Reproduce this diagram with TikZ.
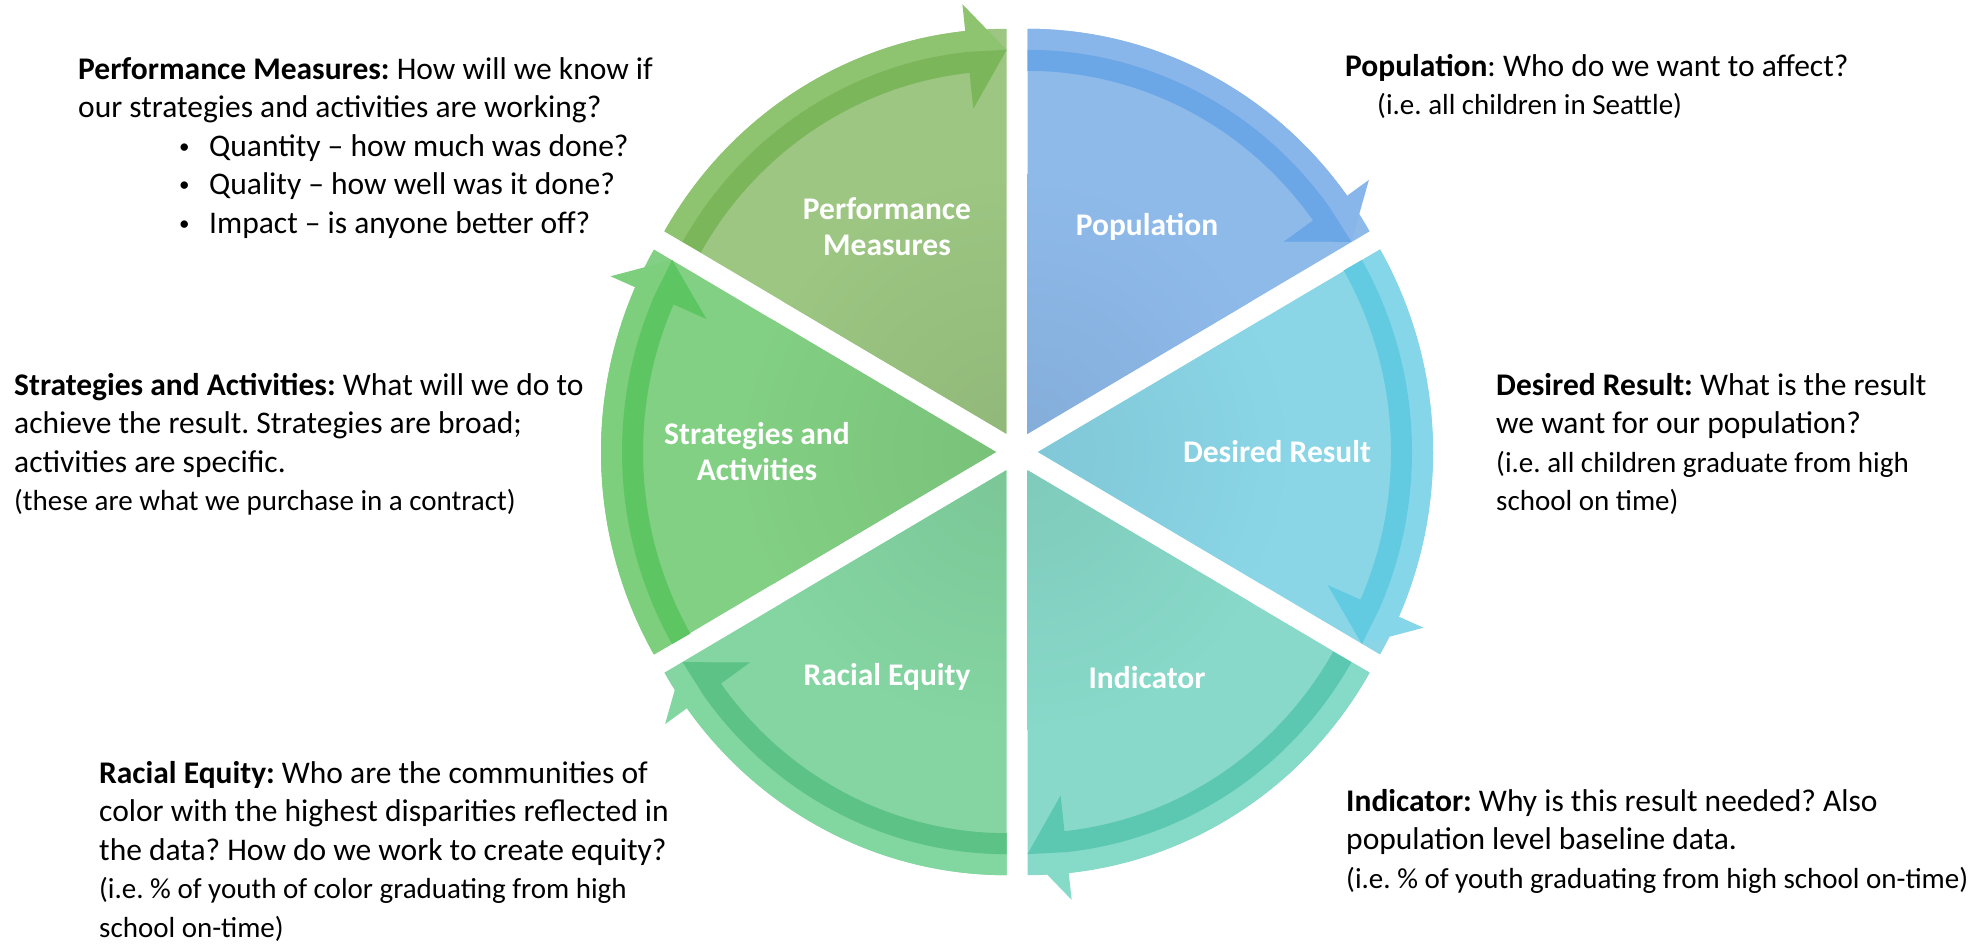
\documentclass[tikz,border=0pt]{standalone}
\usepackage{fontspec}
\setmainfont{Carlito}
\usetikzlibrary{calc}
\usetikzlibrary{positioning}

\definecolor{popfill}{HTML}{8EBAEA}
\definecolor{popout}{HTML}{88B6EA}
\definecolor{popin}{HTML}{6BA7E6}
\definecolor{resfill}{HTML}{8AD6E7}
\definecolor{resout}{HTML}{86D6E9}
\definecolor{resin}{HTML}{62CBE2}
\definecolor{indfill}{HTML}{88D9C9}
\definecolor{indout}{HTML}{86DAC8}
\definecolor{indin}{HTML}{5CC8B2}
\definecolor{eqfill}{HTML}{84D5A2}
\definecolor{eqout}{HTML}{82D6A0}
\definecolor{eqin}{HTML}{5DC285}
\definecolor{strfill}{HTML}{82D083}
\definecolor{strout}{HTML}{7DCF7E}
\definecolor{strin}{HTML}{5EC563}
\definecolor{pmfill}{HTML}{9CC682}
\definecolor{pmout}{HTML}{8EC36F}
\definecolor{pmin}{HTML}{7BB65A}

\tikzstyle{seglabel} = [
    text=white,
    font=\bfseries\fontsize{31.5}{36}\selectfont,
    align=center
]
\tikzstyle{note} = [
    anchor=north west,
    inner sep=0pt,
    align=left,
    font=\frenchspacing\fontsize{31.5}{38.5}\selectfont
]
\newcommand{\iesize}{\fontsize{29}{38.5}\selectfont}
\newcommand{\pmitem}{\hspace*{101pt}\makebox[30pt][l]{\raisebox{3pt}{\fontsize{21}{21}\selectfont •}}}

\begin{document}
\begin{tikzpicture}[x=1pt, y=1pt]

\fill[white] (0,0) rectangle (1984,945);
\useasboundingbox (0,0) rectangle (1984,945);
\coordinate (c) at (1017,493);

% six segments, each with its arrow along the rim (clockwise)
\foreach \bis/\segfill/\rimout/\rimin in {60/popfill/popout/popin, 0/resfill/resout/resin, -60/indfill/indout/indin, -120/eqfill/eqout/eqin, 180/strfill/strout/strin, 120/pmfill/pmout/pmin} {
  \begin{scope}[shift={(c)}, shift={(\bis:21pt)}]
    \fill[\segfill] (0,0) -- (\bis+30:395pt and 405pt) arc[start angle=\bis+30, end angle=\bis-30, x radius=395pt, y radius=405pt] -- cycle;
    \begin{scope}
      \clip (0,0) -- (\bis+30:395pt and 405pt) arc[start angle=\bis+30, end angle=\bis-30, x radius=395pt, y radius=405pt] -- cycle;
      \shade[inner color=\segfill!93!black, outer color=\segfill] (0,0) circle (260pt);
    \end{scope}
    \fill[\rimout] (\bis+30:395pt and 405pt) arc[start angle=\bis+30, end angle=\bis-24, x radius=395pt, y radius=405pt]
        -- (\bis-24:422pt and 432pt) -- (\bis-30:374pt and 384pt) -- (\bis-24:317pt and 327pt)
        -- (\bis-24:353pt and 363pt) arc[start angle=\bis-24, end angle=\bis+30, x radius=353pt, y radius=363pt] -- cycle;
    \fill[\rimin] (\bis+30:374pt and 384pt) arc[start angle=\bis+30, end angle=\bis-24, x radius=374pt, y radius=384pt]
        -- (\bis-30:374pt and 384pt) -- (\bis-24:317pt and 327pt)
        -- (\bis-24:353pt and 363pt) arc[start angle=\bis-24, end angle=\bis+30, x radius=353pt, y radius=363pt] -- cycle;
  \end{scope}
}

\node[seglabel] (lpop) at ($(c)+(60:260)$)   {Population};
\node[seglabel] (lres) at ($(c)+(0:260)$)    {Desired Result};
\node[seglabel] (lind) at ($(c)+(-60:260)$)  {Indicator};
\node[seglabel] (leq)  at ($(c)+(-120:260)$) {Racial Equity};
\node[seglabel] (lstr) at ($(c)+(180:260)$)  {Strategies and\\Activities};
\node[seglabel] (lpm)  at ($(c)+(120:260)$)  {Performance\\Measures};

\node[note] (pmnote) at (78,888) {\textbf{Performance Measures:} How will we know if\\
our strategies and activities are working?\\
\pmitem Quantity – how much was done?\\
\pmitem Quality – how well was it done?\\
\pmitem Impact – is anyone better off?};

\node[note] (popnote) at (1345,891) {\textbf{Population}: Who do we want to affect?\\
\hspace*{32pt}{\iesize (i.e. all children in Seattle)}};

\node[note] (resnote) at (1496,572) {\textbf{Desired Result:} What is the result\\
we want for our population?\\
{\iesize (i.e. all children graduate from high}\\
{\iesize school on time)}};

\node[note] (strnote) at (14,572) {\textbf{Strategies and Activities:} What will we do to\\
achieve the result. Strategies are broad;\\
activities are specific.\\
{\iesize (these are what we purchase in a contract)}};

\node[note] (eqnote) at (99,184) {\textbf{Racial Equity:} Who are the communities of\\
color with the highest disparities reflected in\\
the data? How do we work to create equity?\\
{\iesize (i.e. \% of youth of color graduating from high}\\
{\iesize school on-time)}};

\node[note] (indnote) at (1346,156) {\textbf{Indicator:} Why is this result needed? Also\\
population level baseline data.\\
{\iesize (i.e. \% of youth graduating from high school on-time)}};

\end{tikzpicture}
\end{document}
